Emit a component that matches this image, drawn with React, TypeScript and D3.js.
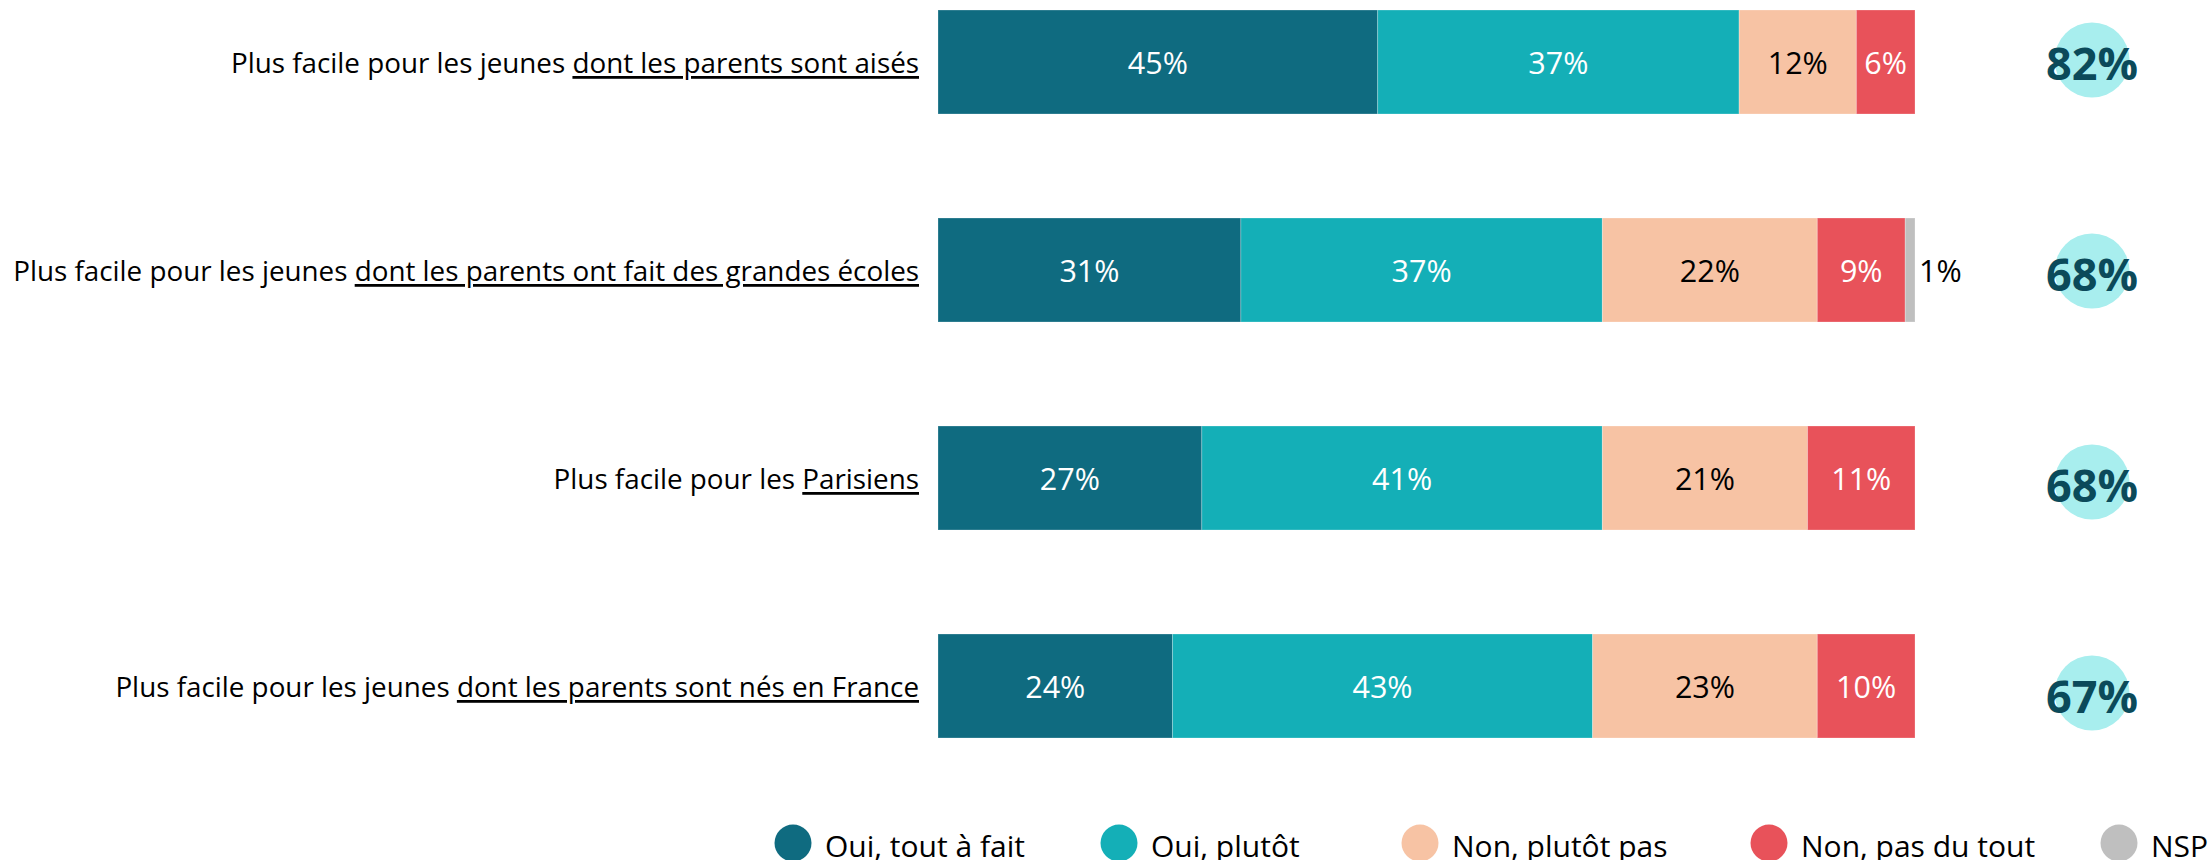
import React from "react";
import * as d3 from "d3";

// ---- data ----
const labelPrefix = [
  "Plus facile pour les jeunes ",
  "Plus facile pour les jeunes ",
  "Plus facile pour les ",
  "Plus facile pour les jeunes ",
];
const labelUnderlined = [
  "dont les parents sont aisés",
  "dont les parents ont fait des grandes écoles",
  "Parisiens",
  "dont les parents sont nés en France",
];
const seriesNames = ["Oui, tout à fait", "Oui, plutôt", "Non, plutôt pas", "Non, pas du tout", "NSP"];
const ouiToutAFait = [45, 31, 27, 24];
const ouiPlutot = [37, 37, 41, 43];
const nonPlutotPas = [12, 22, 21, 23];
const nonPasDuTout = [6, 9, 11, 10];
const nsp = [0, 1, 0, 0];
const totalOui = [82, 68, 68, 67];

// ---- styles ----
const colors = ["#0F6B80", "#14AFB7", "#F7C3A4", "#E8525A", "#BFBFBF"];
const valueTextColors = ["#FFFFFF", "#FFFFFF", "#000000", "#FFFFFF", "#000000"];
const FONT = "'Open Sans', 'Noto Sans', sans-serif";
const W = 2211;
const H = 860;
const legendCenters = [793, 1119, 1420, 1769, 2119];

export default function App() {
  const series = [ouiToutAFait, ouiPlutot, nonPlutotPas, nonPasDuTout, nsp];
  const idx = d3.range(labelUnderlined.length);
  const rows = idx.map((i) => {
    const o: any = { i };
    seriesNames.forEach((s, k) => (o[s] = series[k][i]));
    return o;
  });
  const stacked = d3.stack<any>().keys(seriesNames)(rows);

  const x = d3.scaleLinear().domain([0, 100]).range([938, 1915]);
  const y = d3
    .scaleBand<number>()
    .domain(idx)
    .range([10, 738])
    .paddingInner(0.5)
    .paddingOuter(0);
  const yTot = d3.scalePoint<number>().domain(idx).range([60, 693]);
  const bh = y.bandwidth();

  return (
    <svg
      width={W}
      height={H}
      style={{ position: "absolute", left: 0, top: 0, display: "block", background: "#fff" }}
      fontFamily={FONT}
    >
      {/* category labels */}
      {idx.map((i) => (
        <text
          key={"lab" + i}
          x={919}
          y={(y(i) as number) + bh / 2}
          textAnchor="end"
          dominantBaseline="central"
          fontSize={27.8}
          fill="#000"
        >
          {labelPrefix[i]}
          <tspan textDecoration="underline">{labelUnderlined[i]}</tspan>
        </text>
      ))}

      {/* bars */}
      {stacked.map((layer, k) => (
        <g key={"layer" + k} fill={colors[k]}>
          {layer.map((d, i) => {
            const w = x(d[1]) - x(d[0]);
            if (w <= 0) return null;
            return (
              <rect
                key={i}
                x={x(d[0])}
                y={y(i) as number}
                width={w}
                height={bh}
                stroke="#ffffff"
                strokeOpacity={0.25}
                strokeWidth={1}
              />
            );
          })}
        </g>
      ))}

      {/* value labels */}
      {stacked.map((layer, k) =>
        layer.map((d, i) => {
          const v = d[1] - d[0];
          if (v <= 0) return null;
          const small = x(d[1]) - x(d[0]) < 30;
          return (
            <text
              key={"v" + k + "-" + i}
              x={small ? x(d[1]) + 4 : (x(d[0]) + x(d[1])) / 2}
              y={(y(i) as number) + bh / 2}
              textAnchor={small ? "start" : "middle"}
              dominantBaseline="central"
              fontSize={30.5}
              fill={small ? "#000" : valueTextColors[k]}
            >
              {v + "%"}
            </text>
          );
        })
      )}

      {/* totals */}
      {idx.map((i) => (
        <g key={"tot" + i}>
          <circle cx={2092} cy={yTot(i) as number} r={37.5} fill="#A8EEEE" />
          <text
            x={2092}
            y={(yTot(i) as number) + 2}
            textAnchor="middle"
            dominantBaseline="central"
            fontSize={45}
            fontWeight={700}
            fill="#0B4A5A"
          >
            {totalOui[i] + "%"}
          </text>
        </g>
      ))}

      {/* legend */}
      {seriesNames.map((s, k) => (
        <g key={"leg" + k}>
          <circle cx={legendCenters[k]} cy={843} r={18.5} fill={colors[k]} />
          <text
            x={legendCenters[k] + 32}
            y={845}
            dominantBaseline="central"
            fontSize={30}
            fill="#000"
          >
            {s}
          </text>
        </g>
      ))}
    </svg>
  );
}
